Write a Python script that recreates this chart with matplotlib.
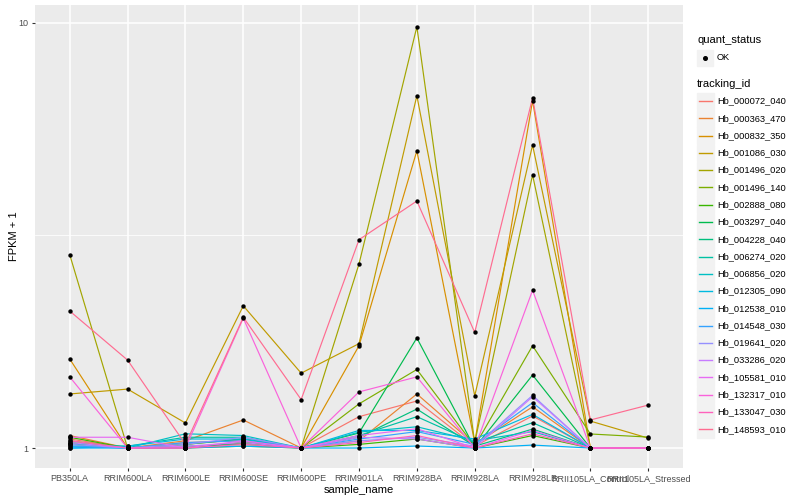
import matplotlib
matplotlib.use("Agg")
import matplotlib.pyplot as plt
from matplotlib.lines import Line2D
from matplotlib.patches import Rectangle
import numpy as np

plt.rcParams["font.family"] = ["Liberation Sans", "DejaVu Sans"]

samples = ["PB350LA", "RRIM600LA", "RRIM600LE", "RRIM600SE", "RRIM600PE", "RRIM901LA",
           "RRIM928BA", "RRIM928LA", "RRIM928LB", "RRII105LA_Control", "RRII105LA_Stressed"]

tracking_ids = ["Hb_000072_040", "Hb_000363_470", "Hb_000832_350", "Hb_001086_030",
                "Hb_001496_020", "Hb_001496_140", "Hb_002888_080", "Hb_003297_040",
                "Hb_004228_040", "Hb_006274_020", "Hb_006856_020", "Hb_012305_090",
                "Hb_012538_010", "Hb_014548_030", "Hb_019641_020", "Hb_033286_020",
                "Hb_105581_010", "Hb_132317_010", "Hb_133047_030", "Hb_148593_010"]

# ggplot hue palette, 20 levels
colors = ["#F8766D", "#EA8331", "#D89000", "#C09B00", "#A3A500", "#7CAE00", "#39B600",
          "#00BB4E", "#00BF7D", "#00C1A3", "#00BFC4", "#00BAE0", "#00B0F6", "#35A2FF",
          "#9590FF", "#C77CFF", "#E76BF3", "#FA62DB", "#FF62BC", "#FF6C91"]

# FPKM + 1, one row per tracking_id, columns follow samples
fpkm1 = [
    [1.05, 1.00, 1.03, 1.04, 1.00, 1.185, 1.29, 1.01, 1.19, 1.00, 1.00],
    [1.07, 1.00, 1.04, 1.164, 1.00, 1.04, 1.34, 1.02, 1.25, 1.00, 1.00],
    [1.62, 1.00, 1.02, 1.05, 1.00, 1.74, 5.00, 1.03, 6.56, 1.00, 1.00],
    [1.34, 1.376, 1.145, 2.16, 1.50, 1.76, 6.74, 1.326, 5.16, 1.157, 1.055],
    [2.85, 1.00, 1.00, 1.01, 1.00, 2.71, 9.79, 1.03, 4.39, 1.00, 1.00],
    [1.04, 1.00, 1.00, 1.03, 1.00, 1.27, 1.53, 1.01, 1.74, 1.079, 1.061],
    [1.06, 1.00, 1.00, 1.03, 1.00, 1.02, 1.05, 1.00, 1.07, 1.00, 1.00],
    [1.03, 1.00, 1.01, 1.02, 1.00, 1.085, 1.815, 1.00, 1.485, 1.00, 1.00],
    [1.02, 1.00, 1.02, 1.05, 1.00, 1.06, 1.235, 1.01, 1.108, 1.00, 1.00],
    [1.02, 1.01, 1.06, 1.06, 1.00, 1.07, 1.185, 1.03, 1.147, 1.00, 1.00],
    [1.01, 1.00, 1.08, 1.07, 1.00, 1.09, 1.122, 1.04, 1.093, 1.00, 1.00],
    [1.00, 1.01, 1.05, 1.05, 1.00, 1.10, 1.10, 1.05, 1.20, 1.00, 1.00],
    [1.00, 1.00, 1.00, 1.01, 1.00, 1.00, 1.011, 1.00, 1.016, 1.00, 1.00],
    [1.01, 1.00, 1.03, 1.04, 1.00, 1.05, 1.093, 1.02, 1.278, 1.00, 1.00],
    [1.02, 1.00, 1.02, 1.06, 1.00, 1.04, 1.06, 1.01, 1.33, 1.00, 1.00],
    [1.03, 1.00, 1.01, 1.03, 1.00, 1.06, 1.05, 1.00, 1.32, 1.00, 1.00],
    [1.06, 1.06, 1.00, 1.04, 1.00, 1.07, 1.11, 1.00, 1.10, 1.00, 1.00],
    [1.47, 1.00, 1.00, 2.02, 1.00, 1.355, 1.47, 1.00, 2.35, 1.00, 1.00],
    [1.04, 1.00, 1.00, 1.02, 1.00, 1.03, 1.07, 1.00, 1.08, 1.00, 1.00],
    [2.10, 1.61, 1.02, 2.03, 1.30, 3.09, 3.81, 1.87, 6.66, 1.164, 1.262],
]

W, H = 800, 500
fig = plt.figure(figsize=(8, 5), dpi=100)
ax = fig.add_axes([35 / W, 1 - 468 / H, (683 - 35) / W, (468 - 5) / H])
ax.set_facecolor("#EBEBEB")

x = np.arange(len(samples))
for vals, col in zip(fpkm1, colors):
    ax.plot(x, vals, color=col, lw=0.85, zorder=2)
for vals in fpkm1:
    ax.scatter(x, vals, s=10, color="black", zorder=3, linewidths=0)

ax.set_yscale("log")
ax.set_ylim(10 ** -0.047, 10 ** 1.042)
ax.set_xlim(-0.6, len(samples) - 0.4)
ax.set_yticks([1, 10])
ax.set_yticklabels(["1", "10"])
ax.set_yticks([10 ** 0.5], minor=True)
ax.yaxis.set_minor_formatter(plt.NullFormatter())
ax.set_xticks(x)
ax.set_xticklabels(samples)
ax.grid(True, which="major", color="white", lw=1.1)
ax.grid(True, which="minor", axis="y", color="white", lw=0.55)
ax.set_axisbelow(True)
for s in ax.spines.values():
    s.set_visible(False)
ax.tick_params(which="major", length=2.5, width=0.8, color="#333333",
               labelsize=6.5, labelcolor="#4D4D4D", pad=2)
ax.tick_params(which="minor", length=0)
ax.set_xlabel("sample_name", fontsize=8, labelpad=1)
ax.set_ylabel("FPKM + 1", fontsize=8, labelpad=0)

# legends drawn in pixel coordinates, ggplot style
def px(xp, yp):
    return xp / W, 1 - yp / H

lx = 697
fig.text(*px(lx, 40), "quant_status", fontsize=8, va="center", ha="left")
fig.add_artist(Rectangle(px(lx, 66), 16 / W, 16 / H, color="#F2F2F2", transform=fig.transFigure))
fig.add_artist(Line2D([px(lx + 8, 0)[0]], [px(0, 58)[1]], marker="o", ms=2.6, color="black",
                      transform=fig.transFigure))
fig.text(*px(717, 58), "OK", fontsize=6.7, va="center", ha="left")

fig.text(*px(lx, 84), "tracking_id", fontsize=8, va="center", ha="left")
step = 17.28
for i, (tid, col) in enumerate(zip(tracking_ids, colors)):
    cy = 101 + i * step
    fig.add_artist(Rectangle(px(lx, cy + 8.3), 16.5 / W, 16.5 / H, color="#F2F2F2",
                             transform=fig.transFigure, zorder=1))
    fig.add_artist(Line2D([px(lx + 2, 0)[0], px(lx + 15, 0)[0]], [px(0, cy)[1]] * 2,
                          color=col, lw=1.0, transform=fig.transFigure, zorder=2))
    fig.text(*px(717, cy), tid, fontsize=6.7, va="center", ha="left")

fig.savefig("out.png", dpi=100)
